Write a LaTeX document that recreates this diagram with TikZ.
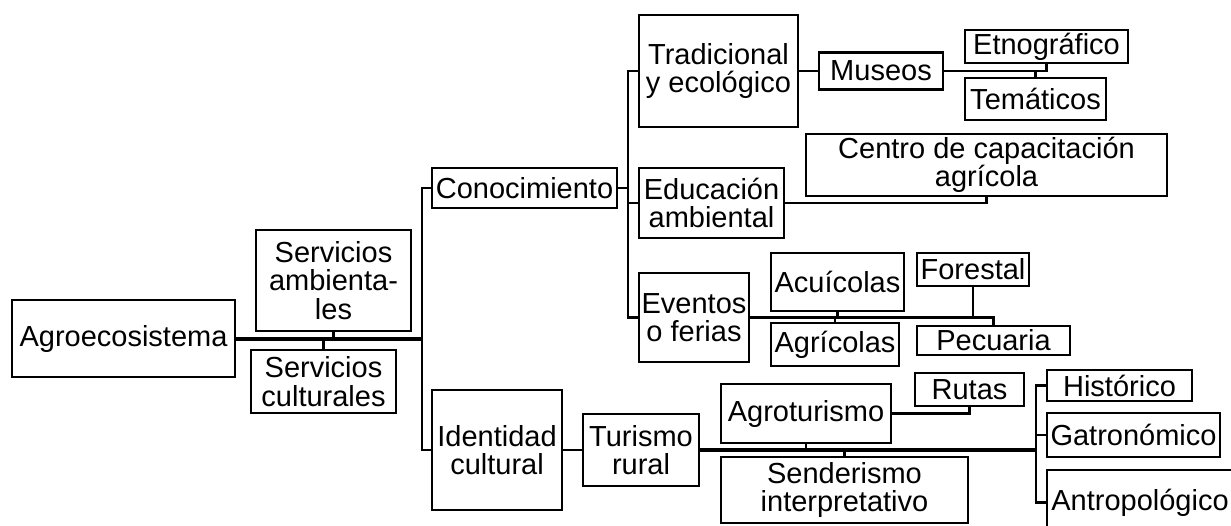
\documentclass[tikz,border=0pt]{standalone}
\usepackage{fontspec}
\setmainfont{Liberation Sans}
\usepackage{tikz}
\usetikzlibrary{positioning}
\tikzstyle{box} = [rectangle, draw=black, line width=2.5pt, inner sep=0pt, align=center, text centered, font=\fontsize{29}{28.5}\selectfont]
\tikzstyle{link} = [line width=2.5pt]
\tikzstyle{biglink} = [line width=4pt]

\begin{document}
\begin{tikzpicture}[x=1pt, y=-1pt]

\clip (0,0) rectangle (1231,525);

\node (agro) [box, minimum width=223, minimum height=77] at (123.5,338.5) {Agroecosistema};
\node (servamb) [box, minimum width=155, minimum height=101] at (333.5,280.5) {Servicios\\ambienta-\\les};
\node (servcul) [box, minimum width=145, minimum height=63] at (323.5,381.5) {Servicios\\culturales};
\node (conoc) [box, minimum width=185, minimum height=40] at (524.5,188) {Conocimiento};
\node (ident) [box, minimum width=130, minimum height=120] at (497,450) {Identidad\\cultural};
\node (trad) [box, minimum width=159, minimum height=112] at (718.5,71) {Tradicional\\y ecológico};
\node (educ) [box, minimum width=145, minimum height=70] at (711.5,203) {Educación\\ambiental};
\node (event) [box, minimum width=110, minimum height=89] at (694,317.5) {Eventos\\o ferias};
\node (museos) [box, minimum width=124, minimum height=37] at (881,71) {Museos};
\node (etno) [box, minimum width=163, minimum height=33] at (1046.5,46.5) {Etnográfico};
\node (tema) [box, minimum width=141, minimum height=42] at (1035.5,99) {Temáticos};
\node (centro) [box, minimum width=361, minimum height=62] at (986.5,165) {Centro de capacitación\\agrícola};
\node (acui) [box, minimum width=133, minimum height=58] at (837.5,282) {Acuícolas};
\node (agric) [box, minimum width=128, minimum height=43] at (835,344.5) {Agrícolas};
\node (forest) [box, minimum width=112, minimum height=33] at (973,269.5) {Forestal};
\node (pecu) [box, minimum width=153, minimum height=29] at (993.5,340.5) {Pecuaria};
\node (turis) [box, minimum width=116, minimum height=72] at (641,450) {Turismo\\rural};
\node (agrot) [box, minimum width=170, minimum height=59] at (806,413.5) {Agroturismo};
\node (sender) [box, minimum width=247, minimum height=66] at (844.5,490) {Senderismo\\interpretativo};
\node (rutas) [box, minimum width=109, minimum height=33] at (969.5,389.5) {Rutas};
\node (hist) [box, minimum width=145, minimum height=31] at (1119.5,385.5) {Histórico};
\node (gastro) [box, minimum width=173, minimum height=44] at (1133.5,435) {Gatronómico};
\node (antro) [box, minimum width=186, minimum height=65] at (1140,502.5) {Antropológico};

\coordinate (j1) at (422,338.5);
\coordinate (j2) at (628,188);
\coordinate (j3) at (1036,450);

\draw [biglink] (agro.east) -- (j1);
\draw [link] (servamb.south) -- (servamb.south |- agro.east);
\draw [link] (servcul.north) -- (servcul.north |- agro.east);
\draw [link] (conoc.west) -| (j1) |- (ident.west);

\draw [link] (conoc.east) -- (j2);
\draw [link] (trad.west) -| (j2) |- (event.west);
\draw [link] (educ.west) -- (educ.west -| j2);

\draw [link] (trad.east) -- (museos.west);
\draw [link] (museos.east) -| (etno.south);
\draw [link] (tema.north) -- (tema.north |- museos.east);
\draw [link] (educ.east) -| (centro.south);

\draw [link] (event.east) -| (pecu.north);
\draw [link] (acui.south) -- (acui.south |- event.east);
\draw [link] (agric.north) -- (agric.north |- event.east);
\draw [link] (forest.south) -- (forest.south |- event.east);

\draw [link] (ident.east) -- (turis.west);
\draw [biglink] (turis.east) -- (j3);
\draw [link] (agrot.south) -- (agrot.south |- j3);
\draw [link] (sender.north) -- (sender.north |- j3);
\draw [link] (agrot.east) -| (rutas.south);
\draw [link] (hist.west) -| (j3) |- (antro.west);
\draw [link] (gastro.west) -- (gastro.west -| j3);

\end{tikzpicture}
\end{document}
